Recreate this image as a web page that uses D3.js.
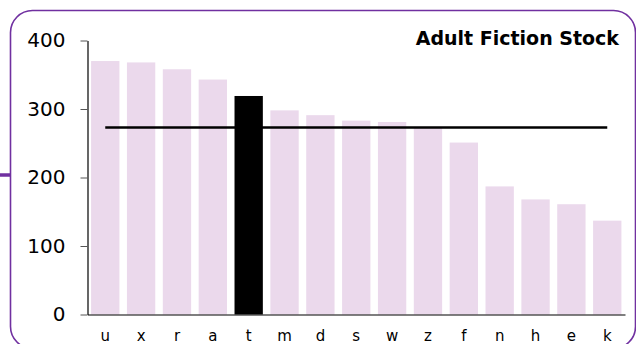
<!DOCTYPE html>
<html>
<head>
<meta charset="utf-8">
<script src="https://cdn.jsdelivr.net/npm/d3@7"></script>
<style>
  html, body { margin: 0; padding: 0; background: #fff; }
  svg { display: block; }
</style>
</head>
<body>
<svg id="chart" width="636" height="344"></svg>
<script>
// Adult fiction stock per branch, sorted high to low
const categories = ["u", "x", "r", "a", "t", "m", "d", "s", "w", "z", "f", "n", "h", "e", "k"];
const stockValues = [370, 368, 358, 343, 319, 298, 291, 283, 281, 273, 251, 187, 168, 161, 137];
const highlighted = ["t"];
const averageValue = [273];
const yTicks = [0, 100, 200, 300, 400];
const title = "Adult Fiction Stock";

const svg = d3.select("#chart");
const purple = "#7030A0";

// frame
svg.append("rect")
  .attr("x", 10.5).attr("y", 10.5)
  .attr("width", 625).attr("height", 338)
  .attr("rx", 22).attr("ry", 22)
  .attr("fill", "none")
  .attr("stroke", purple)
  .attr("stroke-width", 1.6);
svg.append("line")
  .attr("x1", 0).attr("x2", 10)
  .attr("y1", 175).attr("y2", 175)
  .attr("stroke", purple)
  .attr("stroke-width", 3.5);

const x = d3.scaleBand()
  .domain(categories)
  .range([87.5, 625])
  .paddingInner(0.21)
  .paddingOuter(0.1);

const y = d3.scaleLinear()
  .domain([0, 400])
  .range([314.5, 40.5]);

const data = categories.map((c, i) => ({ cat: c, value: stockValues[i] }));

// bars
svg.append("g")
  .selectAll("rect")
  .data(data)
  .join("rect")
  .attr("x", d => x(d.cat))
  .attr("y", d => y(d.value))
  .attr("width", x.bandwidth())
  .attr("height", d => y(0) - y(d.value))
  .attr("fill", d => highlighted.includes(d.cat) ? "#000" : "#EBD9EC");

// average line across the bar centres
svg.append("line")
  .attr("x1", x(categories[0]) + x.bandwidth() / 2)
  .attr("x2", x(categories[categories.length - 1]) + x.bandwidth() / 2)
  .attr("y1", y(averageValue[0]))
  .attr("y2", y(averageValue[0]))
  .attr("stroke", "#000")
  .attr("stroke-width", 2.5);

// y axis
const yAxis = svg.append("g")
  .attr("transform", "translate(87.5,0)")
  .call(d3.axisLeft(y).tickValues(yTicks).tickSize(7).tickSizeOuter(0).tickPadding(15));
yAxis.select(".domain").attr("stroke", "#000").attr("stroke-width", 1.2);
yAxis.selectAll(".tick line").attr("stroke", "#555");
yAxis.selectAll(".tick text")
  .attr("font-family", "'DejaVu Sans', Verdana, sans-serif")
  .attr("font-size", 20)
  .attr("fill", "#000");

// x axis
const xAxis = svg.append("g")
  .attr("transform", "translate(0,314.5)")
  .call(d3.axisBottom(x).tickSize(0).tickSizeOuter(0).tickPadding(16));
xAxis.select(".domain").attr("stroke", "#000").attr("stroke-width", 1.2);
xAxis.selectAll(".tick text")
  .attr("font-family", "'DejaVu Sans', Verdana, sans-serif")
  .attr("font-size", 15)
  .attr("fill", "#000");

// title
svg.append("text")
  .attr("x", 619)
  .attr("y", 45)
  .attr("text-anchor", "end")
  .attr("font-family", "'DejaVu Sans', Verdana, sans-serif")
  .attr("font-weight", "bold")
  .attr("font-size", 19)
  .attr("fill", "#000")
  .text(title);
</script>
</body>
</html>
